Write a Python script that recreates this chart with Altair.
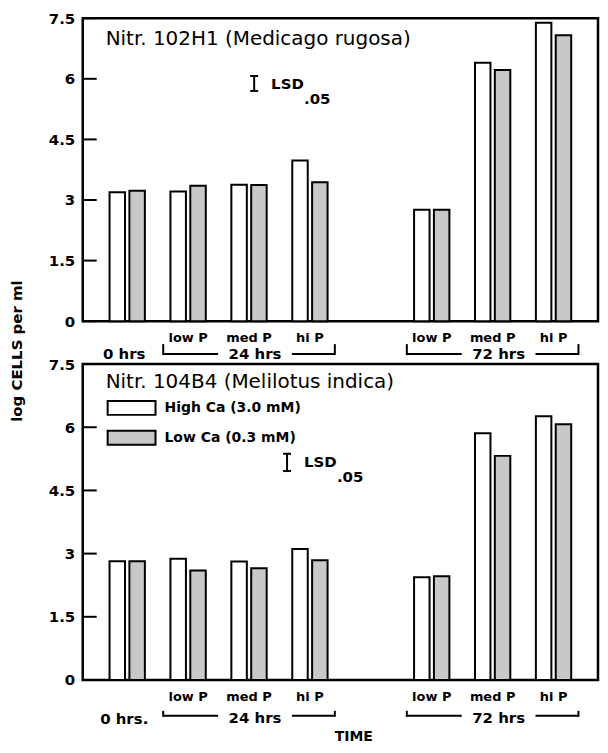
import altair as alt
import pandas as pd

# ---- data ----
slots = ["0h", "24L", "24M", "24H", "gap", "72L", "72M", "72H"]
bar_slots = ["0h", "24L", "24M", "24H", "72L", "72M", "72H"]
series = ["High Ca (3.0 mM)", "Low Ca (0.3 mM)"]

top_high = [3.19, 3.21, 3.38, 3.98, 2.76, 6.40, 7.39]
top_low = [3.23, 3.35, 3.37, 3.44, 2.76, 6.22, 7.08]
bot_high = [2.82, 2.88, 2.81, 3.11, 2.44, 5.86, 6.26]
bot_low = [2.82, 2.60, 2.65, 2.84, 2.46, 5.32, 6.07]

y_ticks = [0, 1.5, 3, 4.5, 6, 7.5]
p_slots = ["24L", "24M", "24H", "72L", "72M", "72H"]
p_labels = ["low P", "med P", "hi P", "low P", "med P", "hi P"]
hr_first = ["24L", "72L"]
hr_mid = ["24M", "72M"]
hr_last = ["24H", "72H"]
hr_labels = ["24 hrs", "72 hrs"]

top_title = "Nitr. 102H1 (Medicago rugosa)"
bot_title = "Nitr.  104B4 (Melilotus indica)"
top_lsd = [5.70, 6.07]
bot_lsd = [4.96, 5.37]

FONT = "DejaVu Sans"
W = 517


def panel(high, low, title, lsd, h, zero_label, hr_y, hr_tick_top, hr_text_y,
          zero_y, title_y, lsd_x, show_legend, extra=None):
    rows = []
    for s, a, b in zip(bar_slots, high, low):
        rows.append({"slot": s, "series": series[0], "value": a})
        rows.append({"slot": s, "series": series[1], "value": b})
    df = pd.DataFrame(rows)

    xscale = alt.Scale(domain=slots, paddingInner=0.42, paddingOuter=0.44, align=0.5)
    yscale = alt.Scale(domain=[0, 7.5], nice=False)
    yaxis = alt.Axis(values=y_ticks, ticks=False, domain=False, grid=False,
                     labelPadding=8, labelFontSize=15, labelFontWeight="bold",
                     labelFont=FONT, labelColor="black", format=".1~f", title=None)
    xenc = alt.X("slot:N", scale=xscale, axis=None)

    if show_legend:
        legend = alt.Legend(
            orient="none", legendX=24, legendY=36, title=None, padding=0,
            symbolType="M-3.43,-1H3.43V1H-3.43Z", symbolSize=196,
            symbolStrokeColor="black", symbolStrokeWidth=2,
            symbolOffset=17, labelOffset=25, rowPadding=8,
            labelFont=FONT, labelFontSize=14, labelFontWeight="bold",
            labelColor="black",
        )
    else:
        legend = None

    bars = alt.Chart(df).mark_bar(stroke="black", strokeWidth=2).encode(
        x=xenc,
        xOffset=alt.XOffset("series:N", scale=alt.Scale(domain=series, paddingInner=0.22, paddingOuter=0)),
        y=alt.Y("value:Q", scale=yscale, axis=yaxis),
        fill=alt.Fill("series:N", scale=alt.Scale(domain=series, range=["white", "#c8c8c8"]),
                      legend=legend),
    )

    tdf = pd.DataFrame({"v": y_ticks})
    ticks = alt.Chart(tdf).mark_rule(color="black", strokeWidth=2).encode(
        y=alt.Y("v:Q", scale=yscale, axis=yaxis), x=alt.value(0), x2=alt.value(14))

    pdf = pd.DataFrame({"slot": p_slots, "label": p_labels})
    plabels = alt.Chart(pdf).mark_text(font=FONT, fontSize=13, fontWeight="bold",
                                       baseline="middle", color="black").encode(
        x=xenc, y=alt.value(h + 17), text="label:N")

    zdf = pd.DataFrame({"slot": ["0h"], "label": [zero_label]})
    zlabel = alt.Chart(zdf).mark_text(font=FONT, fontSize=15, fontWeight="bold",
                                      baseline="middle", color="black", dx=-3).encode(
        x=xenc, y=alt.value(zero_y), text="label:N")

    hdf = pd.DataFrame({"first": hr_first, "mid": hr_mid, "last": hr_last, "label": hr_labels})
    xf = alt.X("first:N", scale=xscale, axis=None)
    xm = alt.X("mid:N", scale=xscale, axis=None)
    xl = alt.X("last:N", scale=xscale, axis=None)
    rule = dict(color="black", strokeWidth=2)
    b1 = alt.Chart(hdf).mark_rule(xOffset=-25, **rule).encode(
        x=xf, y=alt.value(hr_tick_top), y2=alt.value(hr_y + 1))
    b2 = alt.Chart(hdf).mark_rule(xOffset=25, **rule).encode(
        x=xl, y=alt.value(hr_tick_top), y2=alt.value(hr_y + 1))
    b3 = alt.Chart(hdf).mark_rule(xOffset=-25, x2Offset=-31, **rule).encode(
        x=xf, x2=alt.X2("mid:N"), y=alt.value(hr_y))
    b4 = alt.Chart(hdf).mark_rule(xOffset=43, x2Offset=25, **rule).encode(
        x=xm, x2=alt.X2("last:N"), y=alt.value(hr_y))
    htext = alt.Chart(hdf).mark_text(font=FONT, fontSize=15, fontWeight="bold", dx=6,
                                     baseline="middle", color="black").encode(
        x=xm, y=alt.value(hr_text_y), text="label:N")

    ttl = alt.Chart(pd.DataFrame({"t": [title]})).mark_text(
        font=FONT, fontSize=20, align="left", baseline="middle", color="black").encode(
        x=alt.value(23), y=alt.value(title_y), text="t:N")

    ldf = pd.DataFrame({"lo": [lsd[0]], "hi": [lsd[1]]})
    lsd_bar = alt.Chart(ldf).mark_rule(**rule).encode(
        x=alt.value(lsd_x), y=alt.Y("lo:Q", scale=yscale, axis=yaxis), y2="hi:Q")
    cap_lo = alt.Chart(ldf).mark_rule(**rule).encode(
        x=alt.value(lsd_x - 4), x2=alt.value(lsd_x + 4), y=alt.Y("lo:Q", scale=yscale, axis=yaxis))
    cap_hi = alt.Chart(ldf).mark_rule(**rule).encode(
        x=alt.value(lsd_x - 4), x2=alt.value(lsd_x + 4), y=alt.Y("hi:Q", scale=yscale, axis=yaxis))
    lsd_t1 = alt.Chart(ldf).mark_text(font=FONT, fontSize=15, fontWeight="bold", align="left",
                                      baseline="middle", dy=8, color="black").encode(
        x=alt.value(lsd_x + 17), y=alt.Y("hi:Q", scale=yscale, axis=yaxis), text=alt.value("LSD"))
    lsd_t2 = alt.Chart(ldf).mark_text(font=FONT, fontSize=15, fontWeight="bold", align="left",
                                      baseline="middle", dy=23, color="black").encode(
        x=alt.value(lsd_x + 50), y=alt.Y("hi:Q", scale=yscale, axis=yaxis), text=alt.value(".05"))

    layers = [bars, ticks, plabels, zlabel, b1, b2, b3, b4, htext, ttl,
              lsd_bar, cap_lo, cap_hi, lsd_t1, lsd_t2]
    if extra is not None:
        layers += extra
    return alt.layer(*layers).properties(width=W, height=h)


# y-axis title (shared by both panels) and TIME label
ytitle = alt.Chart(pd.DataFrame({"t": ["log CELLS per ml"]})).mark_text(
    font=FONT, fontSize=15, fontWeight="bold", angle=270, baseline="middle",
    color="black").encode(x=alt.value(-66), y=alt.value(334), text="t:N")
time_lbl = alt.Chart(pd.DataFrame({"t": ["TIME"]})).mark_text(
    font=FONT, fontSize=14, fontWeight="bold", baseline="middle",
    color="black").encode(x=alt.value(272), y=alt.value(317 + 57), text="t:N")

top = panel(top_high, top_low, top_title, top_lsd, 304, "0 hrs",
            hr_y=304 + 33, hr_tick_top=304 + 23, hr_text_y=304 + 33, zero_y=304 + 33,
            title_y=21, lsd_x=172, show_legend=False, extra=[ytitle])
bottom = panel(bot_high, bot_low, bot_title, bot_lsd, 317, "0 hrs.",
               hr_y=317 + 36, hr_tick_top=317 + 31, hr_text_y=317 + 38, zero_y=317 + 39,
               title_y=18, lsd_x=205, show_legend=True, extra=[time_lbl])

chart = alt.vconcat(top, bottom, spacing=43, bounds="flush",
                    padding={"left": 0, "top": 0, "right": 0, "bottom": 0}).resolve_scale(
    fill="independent", x="independent", y="independent"
).configure(background="white").configure_view(stroke="black", strokeWidth=2.5)

chart.save("out.html", embed_options={"renderer": "svg", "actions": False})
